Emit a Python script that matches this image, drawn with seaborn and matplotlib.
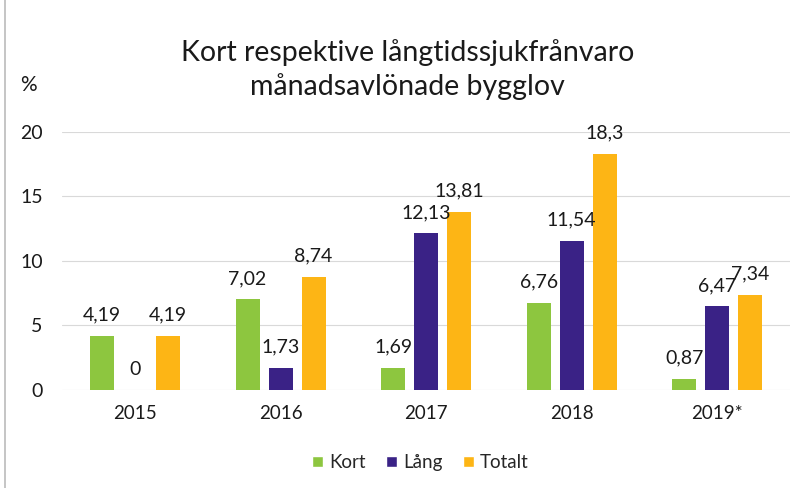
import matplotlib
matplotlib.use("Agg")
import matplotlib.pyplot as plt
import seaborn as sns
import pandas as pd
from matplotlib.lines import Line2D

years = ["2015", "2016", "2017", "2018", "2019*"]
series = ["Kort", "Lång", "Totalt"]
kort = [4.19, 7.02, 1.69, 6.76, 0.87]
lang = [0, 1.73, 12.13, 11.54, 6.47]
totalt = [4.19, 8.74, 13.81, 18.3, 7.34]
colors = ["#8DC63F", "#3A2286", "#FDB515"]

rows = []
for s, vals in zip(series, [kort, lang, totalt]):
    for y, v in zip(years, vals):
        rows.append({"År": y, "Serie": s, "Värde": v})
df = pd.DataFrame(rows)

sns.set_theme(style="white")
plt.rcParams["font.family"] = ["Lato", "DejaVu Sans"]

fig = plt.figure(figsize=(8.07, 4.88), dpi=100)
ax = fig.add_axes([0.077, 0.201, 0.902, 0.529])
sns.barplot(data=df, x="År", y="Värde", hue="Serie", palette=colors,
            width=0.68, ax=ax, saturation=1, legend=True)

fs = 14
bar_w = 0.165
for cont, s in zip(ax.containers, series):
    for bar, v in zip(cont, df[df["Serie"] == s]["Värde"]):
        cx = bar.get_x() + bar.get_width() / 2
        bar.set_x(cx - bar_w / 2)
        bar.set_width(bar_w)
        bar.set_linewidth(0)
        lbl = f"{v:g}".replace(".", ",")
        ax.annotate(lbl, (cx, v), xytext=(0, 15), textcoords="offset points",
                    ha="center", va="center", fontsize=fs, color="#1a1a1a")

ax.set_ylim(0, 20)
ax.set_xlim(-0.5, 4.5)
ax.set_yticks([0, 5, 10, 15, 20])
ax.yaxis.grid(True, color="#D9D9D9", linewidth=0.8)
ax.set_axisbelow(True)
for sp in ax.spines.values():
    sp.set_visible(False)
ax.tick_params(axis="x", length=0, pad=11, labelsize=fs - 0.5, colors="#1a1a1a")
ax.tick_params(axis="y", length=0, pad=14, labelsize=fs, colors="#1a1a1a")
ax.set_xlabel("")
ax.set_ylabel("")

fig.text(0.505, 0.857, "Kort respektive långtidssjukfrånvaro\nmånadsavlönade bygglov",
         ha="center", va="center", fontsize=20.5, color="#1a1a1a", linespacing=1.3)
fig.text(0.025, 0.826, "%", ha="left", va="center", fontsize=15, color="#1a1a1a")

# left border of the chart frame
fig.add_artist(Line2D([0.006, 0.006], [0.0, 1.0], transform=fig.transFigure,
                      color="#BBBBBB", linewidth=1.2))

handles, labels = ax.get_legend_handles_labels()
ax.legend(handles, labels, loc="center", bbox_to_anchor=(0.521, 0.052),
          bbox_transform=fig.transFigure, ncol=3, frameon=False,
          handlelength=0.6, handleheight=0.6, handletextpad=0.3,
          columnspacing=1.1, fontsize=fs - 0.5)

fig.savefig("out.png", dpi=100)
